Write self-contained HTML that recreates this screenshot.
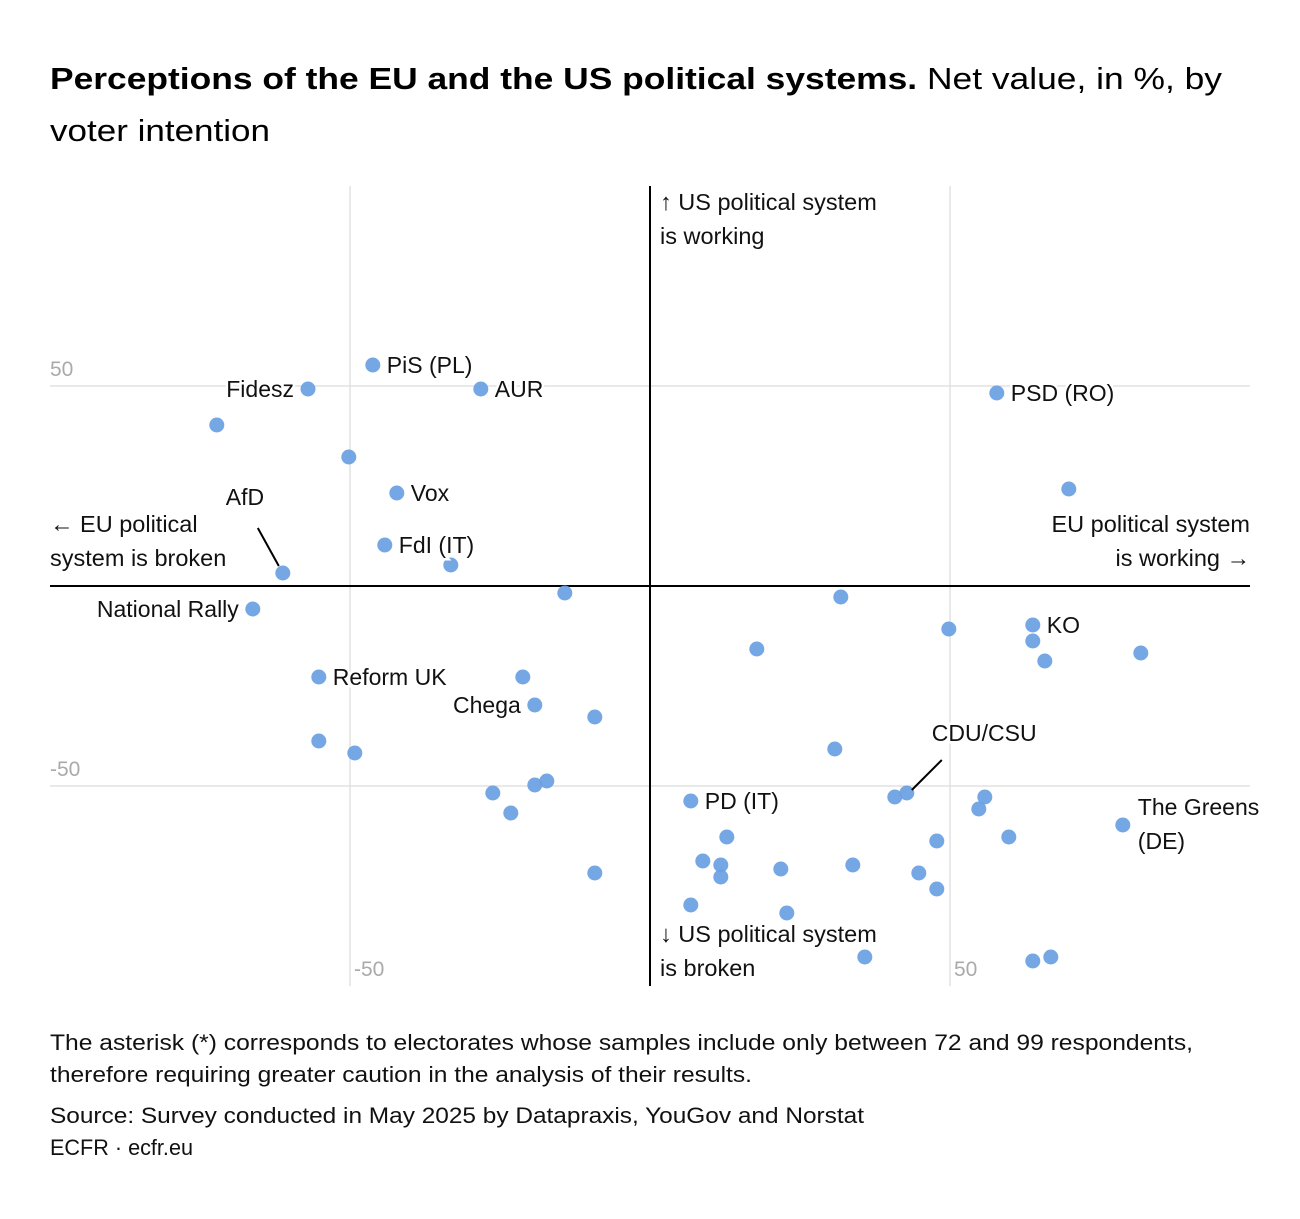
<!DOCTYPE html>
<html><head><meta charset="utf-8"><style>
body{margin:0;background:#fff;font-family:"Liberation Sans",sans-serif;}
svg text{font-family:"Liberation Sans",sans-serif;}
</style></head><body>
<svg id="chart" width="1300" height="1214" viewBox="0 0 1300 1214">
<text x="50" y="89" font-size="31" fill="#000" textLength="1172" lengthAdjust="spacingAndGlyphs"><tspan font-weight="bold">Perceptions of the EU and the US political systems.</tspan> Net value, in %, by</text>
<text x="50" y="141" font-size="31" fill="#000" textLength="220" lengthAdjust="spacingAndGlyphs">voter intention</text>
<g id="grid"></g>
<g id="axes"></g>
<g id="dots"></g>
<g id="labels"></g>
<text x="50" y="1050" font-size="22" fill="#111" textLength="1143" lengthAdjust="spacingAndGlyphs">The asterisk (*) corresponds to electorates whose samples include only between 72 and 99 respondents,</text>
<text x="50" y="1082" font-size="22" fill="#111" textLength="702" lengthAdjust="spacingAndGlyphs">therefore requiring greater caution in the analysis of their results.</text>
<text x="50" y="1123" font-size="22" fill="#111" textLength="814" lengthAdjust="spacingAndGlyphs">Source: Survey conducted in May 2025 by Datapraxis, YouGov and Norstat</text>
<text x="50" y="1155" font-size="22" fill="#111" textLength="143" lengthAdjust="spacingAndGlyphs">ECFR · ecfr.eu</text>
</svg>
<script>
const xs = [-46.2,-57,-28.2,-72.2,-50.2,-42.2,-44.2,-33.2,-61.2,-14.2,-66.2,-55.2,-21.2,-19.2,-9.2,-55.2,-49.2,-17.2,-19.2,-26.2,-23.2,-9.2,57.8,69.8,31.8,49.8,63.8,63.8,65.8,81.8,17.8,30.8,42.8,40.8,55.8,54.8,59.8,47.8,78.8,6.8,12.8,8.8,11.8,11.8,21.8,33.8,44.8,47.8,6.8,22.8,35.8,63.8,66.8];
const ys = [55.25,49.25,49.25,40.25,32.25,23.25,10.25,5.25,3.25,-1.75,-5.75,-22.75,-22.75,-29.75,-32.75,-38.75,-41.75,-48.75,-49.75,-51.75,-56.75,-71.75,48.25,24.25,-2.75,-10.75,-9.75,-13.75,-18.75,-16.75,-15.75,-40.75,-51.75,-52.75,-52.75,-55.75,-62.75,-63.75,-59.75,-53.75,-62.75,-68.75,-69.75,-72.75,-70.75,-69.75,-71.75,-75.75,-79.75,-81.75,-92.75,-93.75,-92.75];
const names = ["PiS (PL)","Fidesz","AUR","","","Vox","FdI (IT)","","AfD","","National Rally","Reform UK","","Chega","","","","","","","","","PSD (RO)","","","","KO","","","","","","CDU/CSU","","","","","","The Greens","PD (IT)","","","","","","","","","","","","",""];
const tickVals = [-50,50];
const NS="http://www.w3.org/2000/svg";
const X=v=>650+v*6, Y=v=>586-v*4;
function mk(tag,attrs,parent,txt){const e=document.createElementNS(NS,tag);for(const k in attrs)e.setAttribute(k,attrs[k]);if(txt!==undefined)e.textContent=txt;parent.appendChild(e);return e;}
const grid=document.getElementById('grid'),axes=document.getElementById('axes'),dots=document.getElementById('dots'),labels=document.getElementById('labels');
tickVals.forEach(t=>{
  let l=mk('line',{x1:X(t),x2:X(t),y1:186,y2:986,stroke:'#e2e2e2','stroke-width':1.5},grid);
  
  
  let h=mk('line',{x1:50,x2:1250,y1:Y(t),y2:Y(t),stroke:'#e2e2e2','stroke-width':1.5},grid);
  
  
  let ty=mk('text',{x:50,y:Y(t)-10,'font-size':21,fill:'#aaa'},grid,String(t));
  
  
  let tx=mk('text',{x:X(t)+4,y:976,'font-size':21,fill:'#aaa'},grid,String(t));
  
  
});
let ax=mk('line',{x1:X(0),x2:X(0),y1:186,y2:986,stroke:'#000','stroke-width':2},axes);


let ay=mk('line',{x1:50,x2:1250,y1:Y(0),y2:Y(0),stroke:'#000','stroke-width':2},axes);


const axisText=[["↑ US political system",660,210,"start"],["is working",660,244,"start"],["↓ US political system",660,942,"start"],["is broken",660,976,"start"],["← EU political",50,532,"start"],["system is broken",50,566,"start"],["EU political system",1250,532,"end"],["is working →",1250,566,"end"]];
axisText.forEach(a=>{
  let t=mk('text',{x:a[1],y:a[2],'font-size':23.5,fill:'#111','text-anchor':a[3],stroke:'#fff','stroke-width':5,'paint-order':'stroke'},axes,a[0]);
  
  
});
xs.forEach((v,i)=>{
  let c=mk('circle',{cx:X(v),cy:Y(ys[i]),r:7.5,fill:'#6a9fe3','fill-opacity':0.92},dots);
  
  
});
const leftNames=["Fidesz","National Rally","Chega"];
names.forEach((n,i)=>{
  if(!n)return;
  const px=X(xs[i]),py=Y(ys[i]);
  let x,y,anchor='start',lines=[n];
  if(leftNames.includes(n)){x=px-14;y=py+8;anchor='end';}
  else if(n==="AfD"){x=px-57;y=py-68;mk('line',{x1:px-25,y1:py-45,x2:px-4,y2:py-7,stroke:'#000','stroke-width':2},labels);}
  else if(n==="CDU/CSU"){x=px+25;y=py-52;mk('line',{x1:px+35,y1:py-33,x2:px+5,y2:py-3,stroke:'#000','stroke-width':2},labels);}
  else if(n==="The Greens"){x=px+15;y=py-10;lines=["The Greens","(DE)"];}
  else {x=px+14;y=py+8;}
  lines.forEach((s,k)=>{
    let t=mk('text',{x:x,y:y+k*34,'font-size':23,fill:'#111','text-anchor':anchor,stroke:'#fff','stroke-width':5,'paint-order':'stroke'},labels,s);
    
    
  });
});
</script>
</body></html>
